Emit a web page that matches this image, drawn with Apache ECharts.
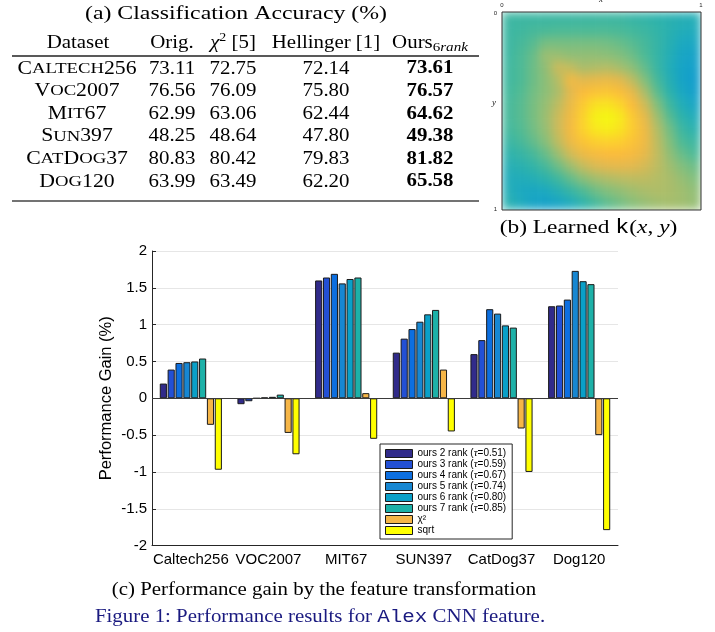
<!DOCTYPE html>
<html>
<head>
<meta charset="utf-8">
<script src="https://cdn.jsdelivr.net/npm/echarts@6/dist/echarts.min.js"></script>
<style>
html,body{margin:0;padding:0;background:#fff;}
#hm{position:absolute;left:502px;top:12px;width:199px;height:198px;z-index:1;filter:url(#soft);}
#main{position:absolute;left:0;top:0;width:715px;height:632px;z-index:2;}
</style>
</head>
<body>
<svg width="0" height="0" style="position:absolute">
  <filter id="soft" x="0" y="0" width="1" height="1" color-interpolation-filters="sRGB">
    <feGaussianBlur stdDeviation="5" edgeMode="duplicate"/>
  </filter>
</svg>
<div id="hm"></div>
<div id="main"></div>
<script>
// ---------- (c) bar chart data ----------
const categories = ['Caltech256', 'VOC2007', 'MIT67', 'SUN397', 'CatDog37', 'Dog120'];
const seriesNames = ['ours 2 rank (τ=0.51)', 'ours 3 rank (τ=0.59)', 'ours 4 rank (τ=0.67)',
  'ours 5 rank (τ=0.74)', 'ours 6 rank (τ=0.80)', 'ours 7 rank (τ=0.85)', 'χ²', 'sqrt'];
const rank2 = [0.20, -0.08, 1.60, 0.62, 0.60, 1.25];
const rank3 = [0.39, -0.04, 1.64, 0.81, 0.79, 1.26];
const rank4 = [0.48, 0.00, 1.69, 0.94, 1.21, 1.34];
const rank5 = [0.49, 0.01, 1.56, 1.04, 1.15, 1.73];
const rank6 = [0.50, 0.02, 1.62, 1.14, 0.99, 1.59];
const rank7 = [0.54, 0.05, 1.64, 1.20, 0.96, 1.55];
const chi2Gain = [-0.36, -0.47, 0.07, 0.39, -0.41, -0.50];
const sqrtGain = [-0.97, -0.76, -0.55, -0.45, -1.00, -1.79];
const barColors = ['#312b8a', '#2350d5', '#0d6fe0', '#1787d2', '#0aa0c8', '#1db1a8', '#f6b648', '#ffff00'];

// ---------- (a) table data ----------
const tableDatasets = ['Caltech256', 'Voc2007', 'Mit67', 'Sun397', 'CatDog37', 'Dog120'];
const origAcc = ['73.11', '76.56', '62.99', '48.25', '80.83', '63.99'];
const chi2Acc = ['72.75', '76.09', '63.06', '48.64', '80.42', '63.49'];
const hellAcc = ['72.14', '75.80', '62.44', '47.80', '79.83', '62.20'];
const oursAcc = ['73.61', '76.57', '64.62', '49.38', '81.82', '65.58'];

// ---------- (b) learned kernel (rows: y from 0 to 1, cols: x from 0 to 1) ----------
const kernelGrid = [
  [3.5, 3.5, 3.5, 3.5, 3.5, 3.5, 3.5, 3.5, 3.5, 3.5, 3.3, 3.2, 3.0, 2.8, 2.6, 2.5],
  [3.5, 3.6, 3.8, 3.9, 4.0, 4.0, 4.0, 4.0, 4.0, 3.9, 3.7, 3.5, 3.2, 2.8, 2.4, 2.2],
  [3.5, 3.8, 4.2, 4.8, 4.8, 4.8, 4.8, 4.8, 4.7, 4.5, 4.2, 3.8, 3.3, 2.7, 2.0, 1.8],
  [3.5, 4.0, 4.5, 5.5, 5.5, 5.3, 5.3, 5.3, 5.2, 5.0, 4.6, 4.0, 3.3, 2.5, 1.6, 1.3],
  [3.6, 4.0, 4.6, 5.3, 6.5, 6.3, 5.8, 5.9, 6.0, 5.7, 5.2, 4.4, 3.4, 2.4, 1.4, 1.0],
  [3.6, 4.0, 4.6, 5.2, 6.0, 7.6, 7.0, 7.2, 7.3, 7.0, 6.2, 5.0, 3.8, 2.6, 1.4, 0.8],
  [3.7, 4.1, 4.7, 5.2, 5.8, 7.0, 8.0, 8.3, 8.4, 8.1, 7.2, 5.8, 4.3, 3.0, 1.8, 1.0],
  [3.8, 4.2, 4.8, 5.4, 6.2, 7.3, 8.5, 9.3, 9.4, 9.0, 8.0, 6.6, 5.0, 3.6, 2.4, 1.6],
  [3.8, 4.2, 4.8, 5.5, 6.5, 7.6, 8.8, 9.8, 10.0, 9.6, 8.5, 7.2, 5.6, 4.2, 3.0, 2.3],
  [3.7, 4.1, 4.7, 5.4, 6.5, 7.7, 8.8, 9.5, 9.7, 9.4, 8.6, 7.5, 6.0, 4.7, 3.5, 2.9],
  [3.4, 3.8, 4.4, 5.1, 6.2, 7.4, 8.3, 8.7, 8.8, 8.7, 8.3, 7.5, 6.2, 5.0, 4.0, 3.5],
  [3.0, 3.3, 3.8, 4.5, 5.5, 6.6, 7.4, 7.8, 8.0, 8.0, 7.8, 7.2, 6.3, 5.3, 4.5, 4.0],
  [2.6, 2.8, 3.2, 3.8, 4.6, 5.5, 6.3, 6.8, 7.0, 7.1, 7.0, 6.7, 6.2, 5.6, 5.0, 4.6],
  [2.3, 2.3, 2.5, 3.0, 3.6, 4.4, 5.1, 5.6, 5.9, 6.1, 6.2, 6.2, 6.0, 5.8, 5.4, 5.0],
  [2.5, 2.0, 1.8, 2.0, 2.6, 3.3, 4.0, 4.6, 5.0, 5.3, 5.6, 5.8, 5.9, 5.8, 5.6, 5.3],
  [2.8, 2.2, 1.5, 1.2, 1.5, 2.2, 3.0, 3.7, 4.3, 4.7, 5.1, 5.4, 5.6, 5.7, 5.6, 5.4]
];
const kernelColors = ['#0e97d0', '#129fca', '#1ca9c0', '#2cb2ac', '#4cba97', '#82bf7d',
  '#b4bd66', '#e2b94f', '#fbbb3c', '#fcd62a', '#f5f712'];

// ---------- heatmap instance ----------
const hm = echarts.init(document.getElementById('hm'), null, {renderer: 'canvas'});
const hmData = [];
kernelGrid.forEach((row, r) => row.forEach((v, c) => hmData.push([c, r, v])));
hm.setOption({
  animation: false,
  grid: {left: 0, right: 0, top: 0, bottom: 0},
  xAxis: {type: 'category', data: kernelGrid[0].map((_, i) => i), show: false},
  yAxis: {type: 'category', data: kernelGrid.map((_, i) => i), inverse: true, show: false},
  visualMap: {show: false, min: 0, max: 10, dimension: 2, inRange: {color: kernelColors}},
  series: [{type: 'heatmap', data: hmData, itemStyle: {borderWidth: 0}}]
});

// ---------- main chart ----------
const serif = 'Liberation Serif';
const sans = 'Liberation Sans';
const TFS = 18, TSX = 1.16;
const rowY = [68.8, 91.4, 114.0, 136.6, 159.2, 181.8];
const colX = {ds: 77, orig: 172, chi: 233, hell: 326, ours: 430};

function smallCaps(name) {
  return name.replace(/[a-z]+/g, m => '{s|' + m.toUpperCase() + '}');
}
const richBase = {
  s: {fontSize: 15.5, fontFamily: serif, lineHeight: 22, fill: '#000'},
  sup: {fontSize: 12, fontFamily: serif, lineHeight: 12, verticalAlign: 'top', fill: '#000'},
  sub: {fontSize: 13, fontFamily: serif, lineHeight: 12.6, verticalAlign: 'bottom', fill: '#000'},
  subi: {fontSize: 13, fontFamily: serif, fontStyle: 'italic', lineHeight: 12.6, verticalAlign: 'bottom', fill: '#000'},
  i: {fontSize: TFS, fontFamily: serif, fontStyle: 'italic', lineHeight: 22, fill: '#000'},
  tt: {fontSize: 18, fontFamily: 'Liberation Mono', lineHeight: 22, fill: '#000'},
  ttb: {fontSize: 18, fontFamily: 'Liberation Mono', lineHeight: 22, fill: '#1a1a80'}
};
function tText(x, y, text, extra) {
  return Object.assign({
    type: 'text', x: x, y: y, scaleX: TSX, silent: true,
    style: Object.assign({
      text: text, fontSize: TFS, fontFamily: serif, fill: '#000',
      align: 'center', verticalAlign: 'middle', lineHeight: 22, rich: richBase
    }, (extra && extra.style) || {})
  }, (extra && extra.el) || {});
}

const graphics = [];
graphics.push(tText(236, 14, '(a) Classification Accuracy (%)', {el: {scaleX: TSX * 1.14, scaleY: 1.1}}));
graphics.push(tText(colX.ds + 1, 43, 'Dataset'));
graphics.push(tText(colX.orig, 43, 'Orig.'));
graphics.push(tText(colX.chi, 43, '{i|χ}{sup|2} [5]'));
graphics.push(tText(colX.hell, 43, 'Hellinger [1]'));
graphics.push(tText(colX.ours, 43, 'Ours{sub|6}{subi|rank}'));
graphics.push({type: 'line', silent: true, shape: {x1: 12, y1: 56, x2: 479, y2: 56}, style: {stroke: '#222', lineWidth: 1.3}});
graphics.push({type: 'line', silent: true, shape: {x1: 12, y1: 201, x2: 479, y2: 201}, style: {stroke: '#444', lineWidth: 1.6}});
tableDatasets.forEach((d, i) => {
  graphics.push(tText(colX.ds, rowY[i], smallCaps(d), {el: {scaleX: TSX * 1.04}}));
  graphics.push(tText(colX.orig, rowY[i], origAcc[i]));
  graphics.push(tText(colX.chi, rowY[i], chi2Acc[i]));
  graphics.push(tText(colX.hell, rowY[i], hellAcc[i]));
  graphics.push(tText(colX.ours, rowY[i], oursAcc[i], {style: {fontWeight: 'bold'}}));
});
// heatmap frame and labels
graphics.push({type: 'rect', silent: true, shape: {x: 502, y: 12, width: 199, height: 198},
  style: {fill: 'transparent', stroke: '#333', lineWidth: 1}, z: 10});
const tiny = (x, y, t, al) => ({type: 'text', x: x, y: y, silent: true,
  style: {text: t, fontSize: 6, fontFamily: sans, fill: '#222', align: al || 'center', verticalAlign: 'middle'}});
graphics.push(tiny(502, 5, '0'), tiny(701, 5, '1'), tiny(497, 13, '0', 'right'), tiny(497, 209, '1', 'right'));
graphics.push({type: 'text', x: 601, y: 0, silent: true,
  style: {text: 'x', fontSize: 9, fontStyle: 'italic', fontFamily: serif, fill: '#222', align: 'center', verticalAlign: 'middle'}});
graphics.push({type: 'text', x: 494, y: 103, silent: true,
  style: {text: 'y', fontSize: 9, fontStyle: 'italic', fontFamily: serif, fill: '#222', align: 'center', verticalAlign: 'middle'}});
graphics.push(tText(588.5, 228, '(b) Learned {tt|k}({i|x}, {i|y})', {el: {scaleX: TSX * 1.12, scaleY: 1.08}}));
graphics.push(tText(324, 590, '(c) Performance gain by the feature transformation'));
graphics.push(tText(320, 617, 'Figure 1: Performance results for {ttb|Alex} CNN feature.', {style: {fill: '#1a1a80'}}));

const allValues = [rank2, rank3, rank4, rank5, rank6, rank7, chi2Gain, sqrtGain];
const series = allValues.map((vals, k) => ({
  name: seriesNames[k],
  type: 'bar',
  data: vals,
  barGap: '10%',
  barCategoryGap: '20%',
  itemStyle: {color: barColors[k], borderColor: '#1a1a1a', borderWidth: 1},
  emphasis: {disabled: true}
}));
series[0].markLine = {
  silent: true, symbol: 'none', animation: false,
  label: {show: false},
  lineStyle: {color: '#3a3a3a', width: 1, type: 'solid'},
  data: [{yAxis: 0}]
};

const chart = echarts.init(document.getElementById('main'), null, {renderer: 'canvas'});
chart.setOption({
  animation: false,
  textStyle: {fontFamily: sans},
  grid: {left: 152, top: 251, width: 466, height: 294.6},
  legend: {
    orient: 'vertical', left: 380, top: 444,
    backgroundColor: '#fff', borderColor: '#262626', borderWidth: 1,
    padding: [4, 6, 3, 5], itemGap: 0, itemWidth: 27, itemHeight: 8,
    icon: 'rect', selectedMode: false,
    itemStyle: {borderColor: '#1a1a1a', borderWidth: 1},
    formatter: n => n.replace('τ', '{g|τ}'),
    textStyle: {fontSize: 10, fontFamily: sans, color: '#000', lineHeight: 11,
      rich: {g: {fontSize: 11, fontStyle: 'italic', fontFamily: serif, lineHeight: 11}}},
    data: seriesNames
  },
  xAxis: {
    type: 'category', data: categories,
    axisLine: {onZero: false, lineStyle: {color: '#262626', width: 1}},
    axisTick: {alignWithLabel: true, inside: true, length: 4, lineStyle: {color: '#262626'}},
    axisLabel: {color: '#000', fontSize: 15, fontFamily: sans, margin: 7, interval: 0, hideOverlap: false},
    splitLine: {show: false}
  },
  yAxis: {
    type: 'value', min: -2, max: 2, interval: 0.5,
    axisLine: {show: true, lineStyle: {color: '#262626', width: 1}},
    axisTick: {show: true, inside: true, length: 4, lineStyle: {color: '#262626'}},
    splitLine: {show: true, lineStyle: {color: '#e6e6e6', width: 1}},
    axisLabel: {color: '#000', fontSize: 15, fontFamily: sans, margin: 5},
    name: 'Performance Gain (%)', nameLocation: 'middle', nameGap: 37, nameRotate: 90,
    nameMoveOverlap: false,
    nameTextStyle: {color: '#000', fontSize: 16.5, fontFamily: sans}
  },
  series: series,
  graphic: graphics
});
</script>
</body>
</html>
